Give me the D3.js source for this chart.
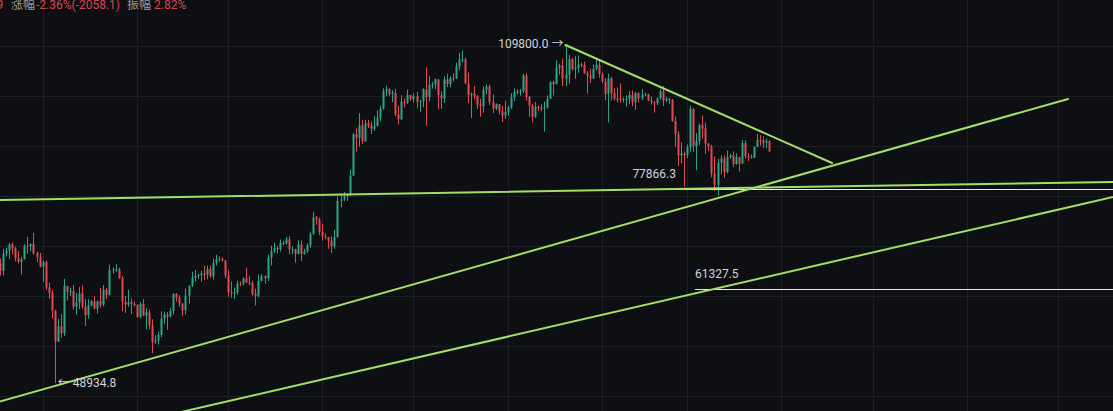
<!DOCTYPE html>
<html>
<head>
<meta charset="utf-8">
<script src="https://cdn.jsdelivr.net/npm/d3@7/dist/d3.min.js"></script>
<style>
  html, body { margin: 0; padding: 0; background: #0e0f12; }
  svg { display: block; }
  text { font-family: Roboto, "Noto Sans CJK SC", "DejaVu Sans", sans-serif; }
</style>
</head>
<body>
<svg id="chart" width="1113" height="411"></svg>
<script>
// ---------------- DATA ----------------
// Daily candles, first candle 2024-07-18, consecutive days to 2025-03-28
const firstDay = "2024-07-18";
const close = [
  // Jul 18-31
  63990, 66660, 67140, 68160, 67530, 65930, 65370, 65780, 67910, 67900, 68250, 66780, 66190, 64620,
  // Aug
  65350, 61500, 60700, 58160, 54020, 56050, 55130, 61710, 60880, 60950, 58710, 59350, 60600, 58740, 57560, 58870,
  59490, 58440, 59490, 59010, 61160, 60380, 64100, 64180, 64220, 62830, 59420, 59030, 59360, 59120, 58970,
  // Sep
  57300, 59130, 57490, 57970, 56160, 53960, 54160, 54870, 57050, 57650, 57340, 58130, 60570, 60000, 59190,
  58210, 60310, 61760, 62950, 63200, 63350, 63580, 63340, 64260, 63150, 65180, 65770, 65860, 65600, 63300,
  // Oct
  60800, 60650, 60750, 62070, 62050, 62820, 62220, 62130, 60580, 60270, 62450, 63190, 62850, 66050, 67040, 67610,
  67400, 68420, 68360, 69000, 67370, 67380, 66650, 68160, 66640, 67010, 68020, 69910, 72720, 72340, 70220,
  // Nov
  69500, 69340, 68740, 67810, 69360, 75640, 75900, 76550, 76680, 80370, 88700, 87960, 90600, 87250, 91030,
  90580, 89850, 90460, 92310, 94290, 98320, 98890, 97670, 97900, 93010, 91970, 95860, 95640, 97460, 96410,
  // Dec
  97190, 95840, 96000, 98770, 96940, 99830, 99920, 101110, 97350, 96590, 101120, 100010, 101420, 101370, 104300, 106060,
  106130, 100200, 97460, 97760, 97220, 95190, 94880, 98680, 99430, 95790, 94300, 95300, 93700, 92790, 93580,
  // Jan
  94590, 96890, 98110, 98240, 98310, 102100, 96950, 95040, 92480, 94700, 94550, 94500, 94520, 96530, 100500, 99990,
  104080, 104550, 101330, 102260, 106140, 103650, 103960, 104820, 104710, 102590, 102080, 101330, 103730, 104730, 102430,
  // Feb
  100640, 97690, 101400, 97870, 96620, 96550, 96530, 96480, 96500, 97430, 95780, 97870, 96620, 97510,
  97570, 96120, 95780, 95540, 96640, 98310, 96130, 96580, 96270, 91550, 88740, 84350, 84710, 84370,
  // Mar 1-28
  86030, 94270, 86220, 87280, 90600, 89960, 86740, 86150, 80730, 78600, 82860, 83720, 81070, 83980,
  84340, 82580, 84010, 82720, 86850, 84170, 84040, 83830, 86080, 87500, 87420, 86900, 87230, 85171.9
];
const high = [
  65900, 67440, 67600, 68370, 68480, 67800, 67100, 66170, 68200, 69400, 68310, 70080, 66990, 66800,
  65600, 65600, 62200, 61120, 58300, 57040, 57700, 62750, 61750, 61470, 61860, 60680, 61580, 61800, 59850, 59800,
  59690, 60280, 59620, 61420, 61830, 61410, 64950, 64520, 65000, 64480, 63210, 60230, 61170, 59900, 59460,
  59060, 59400, 59810, 58520, 58330, 56990, 54850, 55320, 58100, 58040, 57990, 58590, 60650, 60660, 60380,
  59210, 61320, 61790, 63850, 64130, 63560, 64000, 64740, 64800, 64800, 65840, 66500, 66260, 66080, 65620,
  64130, 62380, 61480, 62480, 62370, 62980, 64480, 63200, 62520, 61320, 63420, 63480, 63280, 66500, 67950, 68420,
  67940, 68970, 68690, 69400, 69500, 67840, 67470, 68840, 68770, 67450, 68330, 70270, 73620, 72960, 72700,
  71630, 70000, 69380, 69480, 70580, 76400, 76940, 77250, 76870, 81500, 89000, 89960, 93270, 91760, 91850,
  91790, 91450, 92600, 93900, 94900, 99000, 99590, 98950, 98550, 98870, 94970, 97360, 96650, 98690, 97460,
  97840, 98150, 96300, 99000, 104090, 101900, 100550, 101400, 101220, 98270, 101890, 102540, 101900, 102650, 105250, 107780,
  108350, 106520, 102800, 98000, 99540, 97400, 96540, 99500, 99960, 99960, 97540, 95500, 95350, 94900, 96150,
  95000, 97840, 98980, 98780, 98820, 102480, 102700, 97250, 95350, 95840, 95000, 95400, 95900, 97350, 100680, 100870,
  105870, 104990, 106300, 109800, 107240, 106400, 106900, 107100, 105280, 105500, 103200, 103780, 104800, 106450, 106000,
  102800, 101460, 102500, 101750, 99000, 99200, 100140, 96880, 97320, 98350, 98500, 98120, 98000, 98830,
  97970, 97730, 97050, 96000, 96900, 98770, 99500, 96950, 96650, 96500, 92500, 89330, 87000, 85120,
  86550, 95000, 94420, 88950, 90990, 92800, 91200, 86900, 86500, 84120, 83620, 84360, 84300, 85300,
  84670, 85120, 84750, 84030, 87450, 87440, 84780, 84550, 86100, 88750, 88530, 88290, 87780, 87500
];
const low = [
  63250, 63300, 66220, 65800, 66570, 65440, 65120, 63440, 65740, 66660, 67060, 66480, 65300, 64520,
  62300, 61100, 59850, 57120, 48934.8, 53970, 54560, 54730, 59600, 60250, 58290, 57640, 58400, 58430, 56080, 57080,
  58800, 58410, 57790, 58600, 58780, 59800, 60350, 63550, 63800, 62800, 58100, 57860, 58720, 57700, 58760,
  57200, 57130, 57420, 55610, 55650, 52550, 53740, 53630, 54590, 56400, 55560, 57320, 57640, 59450, 58700,
  57490, 57630, 59170, 61560, 62350, 62760, 62360, 62620, 62700, 62950, 62670, 64800, 65420, 65420, 62860,
  60160, 59980, 59820, 60460, 61680, 61800, 62130, 61830, 60300, 58900, 60050, 62400, 62050, 62440, 64800, 66750,
  66670, 67020, 68000, 68100, 66580, 66570, 65260, 66540, 65520, 66500, 66800, 67600, 69730, 71440, 69680,
  68820, 69010, 67450, 66800, 67460, 69300, 74480, 75580, 75640, 76490, 80220, 85070, 86130, 86670, 87120,
  90060, 88720, 89380, 90370, 91500, 94100, 97120, 97140, 95730, 92600, 90790, 91760, 94600, 95380, 96100,
  95690, 94400, 93580, 94660, 90500, 95980, 98950, 98770, 94150, 94260, 95600, 99310, 99200, 100610, 101220, 103320,
  105320, 100000, 95590, 92230, 96400, 94200, 92500, 93380, 97600, 95140, 93260, 94000, 93000, 91300, 92000,
  92740, 94200, 96000, 97500, 97250, 97900, 96100, 92500, 91200, 92200, 93800, 93700, 89260, 94320, 96500, 97300,
  99950, 102300, 99550, 99500, 100100, 103300, 101250, 102750, 104100, 102500, 97780, 100280, 101250, 103300, 101550,
  100300, 96150, 91230, 96150, 96200, 95700, 95650, 95690, 94750, 95260, 94850, 94090, 95700, 96250,
  97230, 96050, 95200, 93390, 95100, 96400, 94870, 95800, 95280, 91380, 86050, 82250, 82780, 78260,
  83800, 85050, 85080, 81390, 86400, 87800, 84670, 85220, 80000, 77460, 76600, 80660, 79940, 80800,
  83640, 82000, 82450, 81130, 82640, 83650, 83180, 83650, 83800, 85950, 86300, 85860, 85860, 85040
];
const firstOpen = 65070;
// crypto daily candles open at the previous close
const open = [firstOpen].concat(close.slice(0, -1));

// Grid (price levels of the horizontal grid lines, months for vertical)
const gridPrices = [109546, 97206, 86251, 76528, 67904, 60253, 53461, 47437];
const gridMonthsFrom = "2024-07-01", gridMonthsTo = "2025-08-01";

// Trend lines: [date, price] -> [date, price]
const trendFrom = [["2024-07-10", 75720], ["2024-07-10", 46051], ["2024-09-08", 45081], ["2025-01-20", 109800]];
const trendTo   = [["2025-07-25", 79206], ["2025-07-04T07:00:00Z", 96510], ["2025-07-25", 77103], ["2025-04-17T16:00:00Z", 82812]];

// Horizontal price marks
const levelPrices = [77866.3, 61327.5];
const levelStarts = ["2025-02-11", "2025-03-03T14:00:00Z"];

// Extreme-point annotations
const peakDate = "2025-01-20", peakPrice = 109800;
const troughDate = "2024-08-05", troughPrice = 48934.8;

// Header
const headerParts = ["9", "涨幅", "-2.36%(-2058.1)", "振幅", "2.82%"];

// ---------------- DRAW ----------------
const W = 1113, H = 411;
const svg = d3.select("#chart");
const parse = s => new Date(s.length === 10 ? s + "T00:00:00Z" : s);

const x = d3.scaleUtc()
  .domain([parse("2024-08-01"), parse("2025-07-01")])
  .range([42.6, 1058]);
const y = d3.scaleLog()
  .domain([48934.8, 109800])
  .range([383, 45]);

const dates = close.map((_, i) => d3.utcDay.offset(parse(firstDay), i));

svg.append("rect").attr("width", W).attr("height", H).attr("fill", "#0e0f12");

// grid
const g = svg.append("g").attr("stroke", "#1d1f24").attr("stroke-width", 1);
g.selectAll("line.v").data(d3.utcMonths(parse(gridMonthsFrom), parse(gridMonthsTo)))
  .join("line").attr("class", "v")
  .attr("x1", d => Math.round(x(d)) + 0.5).attr("x2", d => Math.round(x(d)) + 0.5)
  .attr("y1", 0).attr("y2", H);
g.selectAll("line.h").data(gridPrices)
  .join("line").attr("class", "h")
  .attr("y1", d => Math.round(y(d)) + 0.5).attr("y2", d => Math.round(y(d)) + 0.5)
  .attr("x1", 0).attr("x2", W);

// candles
const UP = "#2aa585", DOWN = "#e04b52";
const candles = svg.append("g").selectAll("g").data(d3.range(close.length)).join("g");
candles.append("line")
  .attr("x1", i => Math.round(x(dates[i])) + 0.5)
  .attr("x2", i => Math.round(x(dates[i])) + 0.5)
  .attr("y1", i => y(high[i])).attr("y2", i => y(low[i]))
  .attr("stroke", i => close[i] >= open[i] ? UP : DOWN).attr("stroke-width", 1);
candles.append("rect")
  .attr("x", i => Math.round(x(dates[i])) - 0.5)
  .attr("width", 2)
  .attr("y", i => y(Math.max(open[i], close[i])))
  .attr("height", i => Math.max(1, y(Math.min(open[i], close[i])) - y(Math.max(open[i], close[i]))))
  .attr("fill", i => close[i] >= open[i] ? UP : DOWN);

// horizontal white levels
svg.append("g").selectAll("line").data(levelPrices).join("line")
  .attr("x1", (d, i) => x(parse(levelStarts[i]))).attr("x2", W)
  .attr("y1", d => Math.round(y(d)) + 0.5).attr("y2", d => Math.round(y(d)) + 0.5)
  .attr("stroke", "#e9e9e9").attr("stroke-width", 1);

// trend lines
svg.append("g").selectAll("line").data(d3.range(trendFrom.length)).join("line")
  .attr("x1", i => x(parse(trendFrom[i][0]))).attr("y1", i => y(trendFrom[i][1]))
  .attr("x2", i => x(parse(trendTo[i][0]))).attr("y2", i => y(trendTo[i][1]))
  .attr("stroke", "#a3df68").attr("stroke-width", 2).attr("stroke-linecap", "round");

// labels
const labelColor = "#d1d4dc";
const lab = svg.append("g").attr("fill", labelColor).attr("font-size", 12);
lab.selectAll("text.lvl").data(levelPrices).join("text").attr("class", "lvl")
  .attr("x", (d, i) => x(parse(levelStarts[i])))
  .attr("y", d => y(d) - 11)
  .text(d => d3.format(".1f")(d));
lab.append("text")
  .attr("x", x(parse(peakDate)) - 2).attr("y", y(peakPrice) - 1)
  .attr("dy", "0.35em").attr("text-anchor", "end")
  .text(d3.format(".1f")(peakPrice) + " →");
lab.append("text")
  .attr("x", x(parse(troughDate)) + 3).attr("y", y(troughPrice))
  .attr("dy", "0.35em").attr("text-anchor", "start")
  .text("← " + d3.format(".1f")(troughPrice));

// header
const RED = "#d9464f", GRAY = "#9a9ca3";
const hdr = svg.append("g").attr("font-size", 12);
const hx = [3.3, 11, 36, 127, 154];
const hc = [RED, GRAY, RED, GRAY, RED];
hdr.selectAll("text").data(headerParts).join("text")
  .attr("x", (d, i) => hx[i]).attr("y", 9)
  .attr("text-anchor", (d, i) => i === 0 ? "end" : "start")
  .attr("fill", (d, i) => hc[i])
  .text(d => d);
</script>
</body>
</html>
